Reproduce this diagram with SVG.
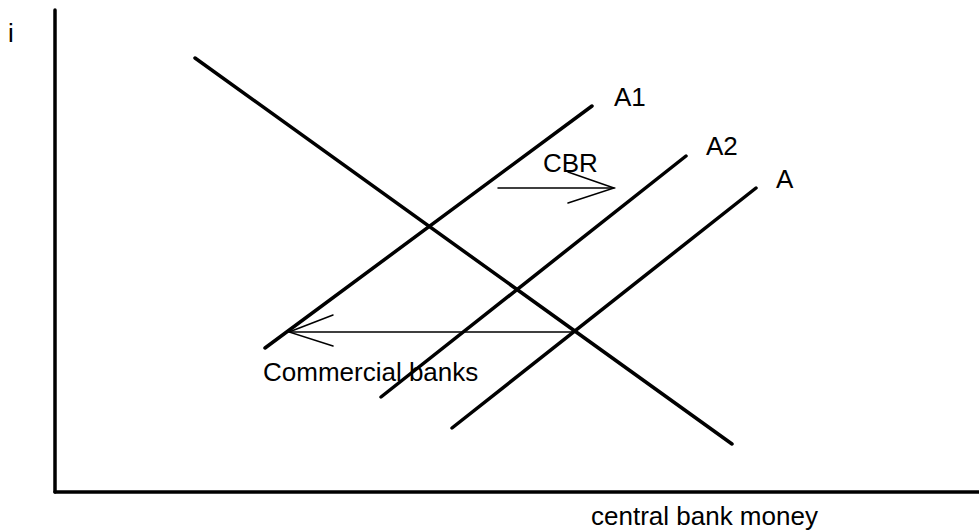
<svg xmlns="http://www.w3.org/2000/svg" width="979" height="532" viewBox="0 0 979 532">
<style>
.t{font-family:"Liberation Sans",Arial,sans-serif;font-size:26px;fill:#000}
.thick{stroke:#000;stroke-width:3.5;stroke-linecap:round;fill:none}
.thin{stroke:#000;stroke-width:1.5;stroke-linecap:round;fill:none}
</style>
<rect width="979" height="532" fill="#fff"/>
<g id="axes">
<line class="thick" x1="55" y1="10" x2="55" y2="492"/>
<line class="thick" x1="55" y1="492" x2="979" y2="492"/>
</g>
<g id="curves">
<line id="demand" class="thick" x1="195" y1="58" x2="732" y2="444"/>
<line id="A1" class="thick" x1="265" y1="348" x2="592" y2="106"/>
<line id="A2" class="thick" x1="381" y1="397" x2="686" y2="156"/>
<line id="A" class="thick" x1="452" y1="428" x2="756" y2="188"/>
</g>
<g id="connectors">
<line class="thin" x1="498" y1="188" x2="614" y2="188"/>
<polyline class="thin" points="568,172 614,188 568,203"/>
<line class="thin" x1="573" y1="332" x2="289" y2="332"/>
<polyline class="thin" points="333,315 289,332 333,346"/>
</g>
<g id="labels">
<text class="t" x="8" y="42">i</text>
<text class="t" x="614" y="106">A1</text>
<text class="t" x="706" y="155">A2</text>
<text class="t" x="776" y="188">A</text>
<text class="t" x="543" y="172">CBR</text>
<text class="t" x="263" y="381">Commercial banks</text>
<text class="t" x="591" y="525">central bank money</text>
</g>
</svg>
